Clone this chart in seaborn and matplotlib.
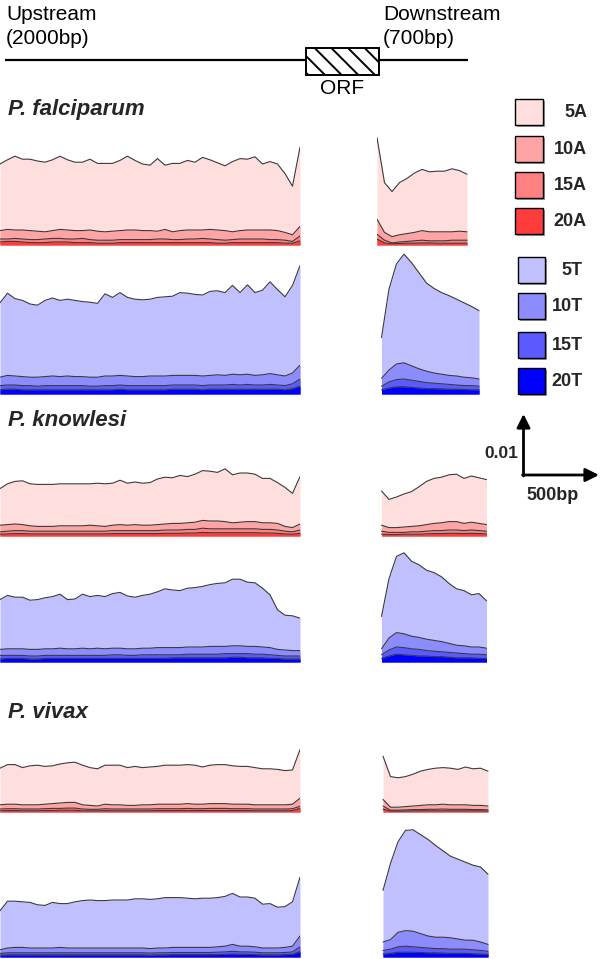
import numpy as np
import matplotlib
matplotlib.use("Agg")
import matplotlib.pyplot as plt
from matplotlib.patches import Rectangle
import seaborn as sns

sns.set_style("white")
plt.rcParams['font.family'] = ['Liberation Sans', 'DejaVu Sans']
plt.rcParams['hatch.linewidth'] = 1.4

# ---------------- data (values in units of 1e-3) ----------------
UP_BP = np.arange(-2000, 1, 50)          # upstream bin positions (bp)

# P. falciparum
PF_UP_5A = [13.5, 14.2, 14.8, 14.3, 14.3, 14.0, 13.8, 14.2, 14.8, 14.2, 13.8, 13.8, 14.3, 13.6, 13.6, 13.6, 14.1, 14.8, 14.1, 13.5, 13.3, 14.4, 13.3, 13.6, 13.6, 14.1, 13.8, 14.6, 14.2, 13.7, 13.2, 13.9, 14.4, 14.3, 14.7, 13.5, 13.9, 13.5, 11.9, 9.8, 16.3]
PF_UP_10A = [2.4, 2.6, 2.5, 2.5, 2.4, 2.3, 2.2, 2.4, 2.6, 2.5, 2.4, 2.4, 2.5, 2.3, 2.2, 2.3, 2.4, 2.5, 2.5, 2.4, 2.4, 2.3, 2.6, 2.2, 2.4, 2.5, 2.5, 2.5, 2.6, 2.5, 2.4, 2.2, 2.4, 2.5, 2.5, 2.5, 2.5, 2.4, 2.1, 1.7, 3.1]
PF_UP_15A = [1.0, 1.0, 1.1, 1.0, 0.9, 0.9, 1.0, 1.1, 1.1, 1.0, 1.0, 1.1, 0.9, 0.8, 0.8, 0.8, 0.9, 0.9, 0.9, 0.9, 0.9, 1.0, 1.0, 0.9, 0.9, 1.0, 1.0, 1.1, 1.0, 0.9, 0.8, 0.9, 1.0, 1.0, 1.0, 1.0, 0.9, 0.9, 0.8, 0.6, 1.5]
PF_UP_20A = [0.5, 0.6, 0.6, 0.5, 0.4, 0.4, 0.4, 0.5, 0.5, 0.5, 0.4, 0.4, 0.4, 0.3, 0.3, 0.3, 0.4, 0.4, 0.4, 0.4, 0.4, 0.4, 0.4, 0.4, 0.4, 0.4, 0.4, 0.4, 0.4, 0.3, 0.3, 0.4, 0.4, 0.4, 0.4, 0.4, 0.4, 0.4, 0.3, 0.3, 0.7]
PF_UP_5T = [15.2, 16.8, 15.9, 15.6, 15.0, 14.8, 15.6, 16.0, 15.6, 15.8, 15.6, 15.4, 15.3, 15.1, 16.7, 16.1, 16.9, 16.1, 15.8, 15.7, 15.8, 16.1, 16.2, 16.3, 16.9, 16.8, 16.6, 16.5, 17.1, 17.2, 16.9, 18.1, 16.9, 18.2, 16.9, 17.3, 18.7, 17.4, 16.2, 18.1, 21.4]
PF_UP_10T = [2.8, 3.1, 3.0, 2.9, 2.8, 2.8, 2.9, 3.0, 2.9, 3.0, 2.9, 2.9, 2.8, 2.8, 3.0, 3.0, 3.1, 3.0, 2.9, 2.9, 3.0, 3.0, 3.0, 3.1, 3.1, 3.1, 3.1, 3.0, 3.1, 3.2, 3.1, 3.3, 3.2, 3.3, 3.1, 3.2, 3.4, 3.2, 3.0, 3.5, 4.8]
PF_UP_15T = [1.4, 1.5, 1.5, 1.4, 1.4, 1.3, 1.4, 1.4, 1.4, 1.4, 1.4, 1.4, 1.3, 1.3, 1.4, 1.4, 1.5, 1.4, 1.4, 1.4, 1.4, 1.4, 1.4, 1.5, 1.5, 1.5, 1.5, 1.4, 1.5, 1.5, 1.5, 1.6, 1.5, 1.6, 1.5, 1.5, 1.6, 1.5, 1.4, 1.7, 2.5]
PF_UP_20T = [0.7, 0.8, 0.8, 0.7, 0.7, 0.7, 0.7, 0.7, 0.7, 0.7, 0.7, 0.7, 0.7, 0.7, 0.7, 0.7, 0.8, 0.7, 0.7, 0.7, 0.7, 0.7, 0.7, 0.8, 0.8, 0.8, 0.8, 0.7, 0.8, 0.8, 0.8, 0.8, 0.8, 0.8, 0.8, 0.8, 0.8, 0.8, 0.7, 0.9, 1.3]

PF_DN_A_BP = np.arange(0, 601, 50)
PF_DN_5A = [17.9, 10.4, 8.9, 10.4, 11.1, 12.0, 12.6, 12.2, 12.3, 12.3, 12.7, 12.4, 11.8]
PF_DN_10A = [4.3, 2.1, 1.4, 1.7, 1.9, 2.1, 2.4, 2.2, 2.2, 2.2, 2.2, 2.3, 2.2]
PF_DN_15A = [1.8, 0.8, 0.35, 0.5, 0.6, 0.7, 0.8, 0.7, 0.7, 0.7, 0.8, 0.8, 0.8]
PF_DN_20A = [1.0, 0.35, 0.2, 0.25, 0.3, 0.3, 0.35, 0.35, 0.3, 0.3, 0.3, 0.3, 0.3]
PF_DN_T_BP = np.arange(30, 681, 50)
PF_DN_5T = [9.4, 17.5, 21.7, 23.3, 21.9, 20.2, 18.5, 17.6, 16.9, 16.4, 15.8, 15.2, 14.6, 13.9]
PF_DN_10T = [2.6, 4.0, 5.0, 5.2, 4.7, 4.2, 3.8, 3.5, 3.3, 3.1, 3.0, 2.8, 2.7, 2.5]
PF_DN_15T = [1.3, 2.0, 2.4, 2.5, 2.3, 2.1, 1.9, 1.8, 1.7, 1.6, 1.5, 1.4, 1.4, 1.3]
PF_DN_20T = [0.7, 1.0, 1.2, 1.2, 1.1, 1.0, 0.9, 0.9, 0.85, 0.8, 0.8, 0.75, 0.7, 0.7]

# P. knowlesi
PK_UP_5A = [7.9, 8.7, 9.1, 9.2, 8.7, 8.6, 8.6, 8.6, 8.7, 8.7, 8.7, 8.7, 8.7, 8.8, 8.7, 8.8, 9.3, 8.8, 9.0, 8.8, 8.9, 9.5, 9.8, 9.7, 10.1, 9.9, 10.3, 10.9, 10.8, 10.6, 11.2, 10.2, 10.5, 10.5, 10.3, 9.6, 9.6, 8.9, 8.1, 7.1, 9.9]
PK_UP_10A = [1.8, 1.9, 2.0, 1.9, 1.7, 1.6, 1.6, 1.6, 1.7, 1.7, 1.7, 1.7, 1.8, 1.7, 1.6, 1.8, 1.9, 1.8, 1.9, 1.8, 1.8, 1.9, 2.0, 2.1, 2.1, 2.2, 2.3, 2.6, 2.5, 2.5, 2.4, 2.2, 2.3, 2.4, 2.4, 2.2, 2.2, 2.1, 1.6, 1.4, 2.0]
PK_UP_15A = [0.7, 0.8, 0.9, 0.9, 0.8, 0.8, 0.8, 0.8, 0.8, 0.8, 0.8, 0.8, 0.8, 0.8, 0.8, 0.9, 0.9, 0.9, 0.9, 0.9, 0.9, 0.9, 1.0, 1.0, 1.0, 1.1, 1.1, 1.3, 1.2, 1.2, 1.2, 1.2, 1.2, 1.2, 1.2, 1.1, 1.1, 1.0, 0.8, 0.7, 1.0]
PK_UP_20A = [0.3, 0.35, 0.4, 0.4, 0.35, 0.35, 0.35, 0.35, 0.35, 0.35, 0.35, 0.35, 0.35, 0.35, 0.35, 0.4, 0.4, 0.4, 0.4, 0.4, 0.4, 0.4, 0.45, 0.45, 0.45, 0.5, 0.5, 0.6, 0.55, 0.55, 0.55, 0.55, 0.55, 0.55, 0.55, 0.5, 0.5, 0.45, 0.35, 0.3, 0.45]
PK_UP_5T = [10.4, 11.1, 10.8, 10.8, 10.3, 10.4, 10.7, 10.9, 11.3, 10.4, 10.5, 11.3, 10.9, 11.1, 10.9, 11.4, 11.6, 11.0, 10.8, 11.1, 11.3, 11.7, 12.2, 12.0, 11.9, 12.3, 12.4, 12.6, 12.9, 13.1, 13.2, 13.8, 13.8, 13.3, 13.2, 12.3, 11.2, 8.7, 7.8, 7.7, 7.3]
PK_UP_10T = [2.1, 2.2, 2.2, 2.2, 2.1, 2.1, 2.2, 2.2, 2.3, 2.2, 2.2, 2.3, 2.2, 2.3, 2.2, 2.3, 2.3, 2.2, 2.2, 2.3, 2.3, 2.4, 2.4, 2.4, 2.4, 2.5, 2.5, 2.5, 2.6, 2.6, 2.6, 2.7, 2.7, 2.6, 2.6, 2.5, 2.4, 2.1, 2.0, 1.9, 1.9]
PK_UP_15T = [1.1, 1.1, 1.1, 1.1, 1.0, 1.0, 1.1, 1.1, 1.1, 1.1, 1.1, 1.1, 1.1, 1.1, 1.1, 1.2, 1.2, 1.1, 1.1, 1.2, 1.2, 1.2, 1.2, 1.2, 1.2, 1.3, 1.3, 1.3, 1.3, 1.3, 1.4, 1.4, 1.4, 1.4, 1.3, 1.3, 1.2, 1.1, 1.0, 1.0, 1.0]
PK_UP_20T = [0.5, 0.6, 0.6, 0.6, 0.5, 0.5, 0.6, 0.6, 0.6, 0.6, 0.6, 0.6, 0.6, 0.6, 0.6, 0.6, 0.6, 0.6, 0.6, 0.6, 0.6, 0.6, 0.6, 0.7, 0.7, 0.7, 0.7, 0.7, 0.7, 0.7, 0.7, 0.8, 0.8, 0.7, 0.7, 0.7, 0.6, 0.6, 0.5, 0.5, 0.5]

PK_DN_BP = np.arange(30, 731, 50)
PK_DN_5A = [7.5, 6.1, 6.5, 7.0, 7.4, 8.2, 9.1, 9.6, 9.8, 10.2, 10.3, 9.6, 10.0, 9.7, 9.4]
PK_DN_10A = [1.8, 1.4, 1.4, 1.5, 1.6, 1.7, 1.9, 2.1, 2.2, 2.4, 2.4, 2.1, 2.3, 2.1, 1.9]
PK_DN_15A = [0.8, 0.6, 0.6, 0.6, 0.7, 0.7, 0.8, 0.9, 0.9, 1.0, 1.0, 0.9, 1.0, 0.9, 0.8]
PK_DN_20A = [0.3, 0.25, 0.25, 0.3, 0.3, 0.3, 0.35, 0.4, 0.4, 0.45, 0.45, 0.4, 0.45, 0.4, 0.35]
PK_DN_5T = [7.6, 13.9, 17.6, 18.2, 16.8, 16.2, 15.3, 14.9, 14.2, 13.1, 12.2, 11.9, 11.2, 11.4, 10.2]
PK_DN_10T = [2.2, 4.0, 4.9, 4.7, 4.3, 4.1, 3.8, 3.6, 3.4, 3.1, 2.8, 2.7, 2.5, 2.5, 2.3]
PK_DN_15T = [1.2, 2.0, 2.5, 2.4, 2.2, 2.1, 1.9, 1.8, 1.7, 1.6, 1.5, 1.4, 1.3, 1.3, 1.2]
PK_DN_20T = [0.6, 1.0, 1.3, 1.2, 1.1, 1.0, 1.0, 0.9, 0.9, 0.8, 0.7, 0.7, 0.7, 0.6, 0.6]

# P. vivax
PV_UP_5A = [7.3, 7.9, 7.9, 7.4, 7.7, 7.8, 7.6, 7.7, 8.0, 8.2, 8.3, 7.8, 7.4, 7.2, 7.8, 7.8, 7.8, 7.4, 7.6, 7.4, 7.5, 7.6, 7.8, 7.8, 7.8, 7.9, 7.8, 7.5, 7.8, 7.9, 7.9, 7.7, 7.6, 7.6, 7.4, 7.2, 7.2, 7.1, 6.9, 7.0, 10.4]
PV_UP_10A = [1.2, 1.3, 1.3, 1.2, 1.2, 1.2, 1.3, 1.4, 1.5, 1.6, 1.6, 1.2, 1.1, 1.0, 1.3, 1.2, 1.2, 1.1, 1.1, 1.2, 1.2, 1.3, 1.3, 1.3, 1.3, 1.4, 1.3, 1.3, 1.4, 1.4, 1.4, 1.3, 1.3, 1.3, 1.2, 1.2, 1.2, 1.2, 1.2, 1.3, 2.3]
PV_UP_15A = [0.5, 0.55, 0.55, 0.5, 0.5, 0.5, 0.55, 0.6, 0.6, 0.65, 0.65, 0.5, 0.45, 0.45, 0.55, 0.5, 0.5, 0.5, 0.5, 0.5, 0.5, 0.55, 0.55, 0.55, 0.55, 0.6, 0.55, 0.55, 0.6, 0.6, 0.6, 0.55, 0.55, 0.55, 0.5, 0.5, 0.5, 0.5, 0.5, 0.55, 0.95]
PV_UP_20A = [0.2, 0.25, 0.25, 0.2, 0.2, 0.2, 0.25, 0.25, 0.3, 0.3, 0.3, 0.2, 0.2, 0.2, 0.25, 0.2, 0.2, 0.2, 0.2, 0.2, 0.2, 0.25, 0.25, 0.25, 0.25, 0.25, 0.25, 0.25, 0.25, 0.25, 0.25, 0.25, 0.25, 0.25, 0.2, 0.2, 0.2, 0.2, 0.2, 0.25, 0.6]
PV_UP_5T = [7.7, 9.3, 9.3, 9.2, 9.1, 8.7, 8.6, 9.1, 8.9, 8.9, 9.2, 9.4, 9.5, 9.4, 9.4, 9.5, 9.5, 9.5, 9.7, 9.7, 9.6, 9.7, 9.9, 9.9, 9.9, 9.8, 9.7, 9.8, 9.8, 9.9, 10.1, 10.6, 10.0, 10.0, 9.8, 8.8, 8.9, 8.3, 8.4, 9.2, 13.3]
PV_UP_10T = [1.2, 1.5, 1.6, 1.6, 1.5, 1.5, 1.5, 1.5, 1.6, 1.5, 1.5, 1.5, 1.5, 1.5, 1.5, 1.5, 1.5, 1.5, 1.5, 1.5, 1.4, 1.5, 1.5, 1.6, 1.6, 1.6, 1.6, 1.6, 1.6, 1.7, 1.8, 2.1, 1.8, 1.8, 1.7, 1.5, 1.5, 1.5, 1.6, 1.8, 3.5]
PV_UP_15T = [0.6, 0.7, 0.7, 0.7, 0.7, 0.7, 0.7, 0.7, 0.7, 0.7, 0.7, 0.7, 0.7, 0.7, 0.7, 0.7, 0.7, 0.7, 0.7, 0.7, 0.65, 0.7, 0.7, 0.75, 0.75, 0.75, 0.75, 0.75, 0.75, 0.8, 0.85, 0.95, 0.85, 0.85, 0.8, 0.7, 0.7, 0.7, 0.75, 0.85, 1.7]
PV_UP_20T = [0.3, 0.35, 0.35, 0.35, 0.35, 0.35, 0.35, 0.35, 0.35, 0.35, 0.35, 0.35, 0.35, 0.35, 0.35, 0.35, 0.35, 0.35, 0.35, 0.35, 0.3, 0.35, 0.35, 0.4, 0.4, 0.4, 0.4, 0.4, 0.4, 0.4, 0.45, 0.5, 0.45, 0.45, 0.4, 0.35, 0.35, 0.35, 0.4, 0.45, 0.9]

PV_DN_BP = np.arange(40, 741, 50)
PV_DN_5A = [9.3, 5.9, 5.7, 5.9, 6.3, 6.8, 7.1, 7.3, 7.4, 7.3, 7.1, 7.5, 7.2, 7.3, 6.8]
PV_DN_10A = [2.1, 0.8, 0.8, 0.9, 1.0, 1.1, 1.2, 1.2, 1.3, 1.2, 1.2, 1.2, 1.1, 1.1, 1.0]
PV_DN_15A = [1.0, 0.3, 0.3, 0.35, 0.4, 0.4, 0.45, 0.45, 0.5, 0.45, 0.45, 0.45, 0.4, 0.4, 0.35]
PV_DN_20A = [0.5, 0.15, 0.15, 0.15, 0.2, 0.2, 0.2, 0.2, 0.2, 0.2, 0.2, 0.2, 0.2, 0.2, 0.15]
PV_DN_5T = [11.1, 15.6, 19.2, 21.1, 21.2, 20.4, 19.6, 18.6, 17.7, 16.8, 16.3, 15.8, 15.3, 15.0, 13.8]
PV_DN_10T = [2.5, 2.9, 4.1, 4.4, 4.3, 3.9, 3.5, 3.3, 3.3, 3.2, 3.0, 2.8, 2.8, 2.5, 2.1]
PV_DN_15T = [1.1, 1.3, 1.7, 1.8, 1.7, 1.6, 1.5, 1.4, 1.4, 1.3, 1.3, 1.3, 1.2, 1.1, 0.95]
PV_DN_20T = [0.5, 0.6, 0.8, 0.8, 0.8, 0.75, 0.7, 0.7, 0.65, 0.6, 0.6, 0.6, 0.55, 0.5, 0.45]

LEVELS_A = ["5A", "10A", "15A", "20A"]
LEVELS_T = ["5T", "10T", "15T", "20T"]
SPECIES = ["P. falciparum", "P. knowlesi", "P. vivax"]

A_COLORS = ["#FFDEDE", "#FFA4A4", "#FF8080", "#FF3C3C"]
T_COLORS = ["#C0C0FF", "#8C8CFF", "#5A5AFF", "#0000FF"]
EDGE = "#3a3a3a"

# ---------------- layout ----------------
W, H = 600, 959
PX_PER_UNIT = 6.0       # 0.01 -> 60 px
PX_PER_BP = 0.15        # 500 bp -> 75 px
fig = plt.figure(figsize=(W / 100, H / 100), dpi=100)

ov = fig.add_axes([0, 0, 1, 1])
ov.set_xlim(0, W)
ov.set_ylim(H, 0)
ov.axis("off")


def px_axes(x0, width_bp, x_start_bp, base, height):
    ax = fig.add_axes([x0 / W, 1 - base / H, width_bp * PX_PER_BP / W, height / H])
    ax.axis("off")
    return ax, (x_start_bp, x_start_bp + width_bp), (0, height / PX_PER_UNIT)


def draw_levels(ax, x, series, colors, xlim, ylim):
    for vals, c in zip(series, colors):
        ax.fill_between(x, 0, vals, color=c, lw=0)
        sns.lineplot(x=x, y=vals, ax=ax, color=EDGE, lw=0.8, legend=False)
    ax.set_xlim(*xlim)
    ax.set_ylim(*ylim)
    ax.axis("off")


panels = [
    (245, A_COLORS, UP_BP, [PF_UP_5A, PF_UP_10A, PF_UP_15A, PF_UP_20A],
     PF_DN_A_BP, [PF_DN_5A, PF_DN_10A, PF_DN_15A, PF_DN_20A]),
    (394, T_COLORS, UP_BP, [PF_UP_5T, PF_UP_10T, PF_UP_15T, PF_UP_20T],
     PF_DN_T_BP, [PF_DN_5T, PF_DN_10T, PF_DN_15T, PF_DN_20T]),
    (536, A_COLORS, UP_BP, [PK_UP_5A, PK_UP_10A, PK_UP_15A, PK_UP_20A],
     PK_DN_BP, [PK_DN_5A, PK_DN_10A, PK_DN_15A, PK_DN_20A]),
    (662, T_COLORS, UP_BP, [PK_UP_5T, PK_UP_10T, PK_UP_15T, PK_UP_20T],
     PK_DN_BP, [PK_DN_5T, PK_DN_10T, PK_DN_15T, PK_DN_20T]),
    (812, A_COLORS, UP_BP, [PV_UP_5A, PV_UP_10A, PV_UP_15A, PV_UP_20A],
     PV_DN_BP, [PV_DN_5A, PV_DN_10A, PV_DN_15A, PV_DN_20A]),
    (957, T_COLORS, UP_BP, [PV_UP_5T, PV_UP_10T, PV_UP_15T, PV_UP_20T],
     PV_DN_BP, [PV_DN_5T, PV_DN_10T, PV_DN_15T, PV_DN_20T]),
]

for base, cols, ux, useries, dx, dseries in panels:
    ax, xl, yl = px_axes(0, 2000, -2000, base, 150)
    draw_levels(ax, ux, useries, cols, xl, yl)
    ax, xl, yl = px_axes(377, 780, 0, base, 150)
    draw_levels(ax, dx, dseries, cols, xl, yl)

# ---------------- schematic at top ----------------
ov.plot([5, 468], [59.5, 59.5], color="black", lw=1.6, solid_capstyle="butt")
ov.add_patch(Rectangle((306, 48), 73, 27, facecolor="white", edgecolor="black",
                       lw=1.4, hatch="\\\\", zorder=3))
txt = dict(fontsize=15, color="black", va="center")
ov.text(6, 15, "Upstream", ha="left", **txt)
ov.text(6, 38, "(2000bp)", ha="left", **txt)
ov.text(383, 15, "Downstream", ha="left", **txt)
ov.text(383, 38, "(700bp)", ha="left", **txt)
ov.text(342, 88, "ORF", ha="center", **txt)

# species titles
for name, y in zip(SPECIES, [109, 421, 712]):
    ov.text(8, y, name, fontsize=16, fontweight="bold", fontstyle="italic",
            ha="left", va="center")

# ---------------- legend ----------------
A_TOPS = [99, 135.5, 172, 208]
T_TOPS = [257, 293, 332, 368]
for lab, c, top in zip(LEVELS_A, A_COLORS, A_TOPS):
    ov.add_patch(Rectangle((517, top + 2), 28, 26, facecolor="#9a9a9a", edgecolor="none"))
    ov.add_patch(Rectangle((515, top), 28, 26, facecolor=c, edgecolor="black", lw=1.0))
    ov.text(587, top + 13.5, lab, fontsize=13, fontweight="bold", ha="right", va="center")
for lab, c, top in zip(LEVELS_T, T_COLORS, T_TOPS):
    ov.add_patch(Rectangle((520, top + 2), 27, 26, facecolor="#9a9a9a", edgecolor="none"))
    ov.add_patch(Rectangle((518, top), 27, 26, facecolor=c, edgecolor="black", lw=1.0))
    ov.text(583, top + 13.5, lab, fontsize=13, fontweight="bold", ha="right", va="center")

# ---------------- scale bar ----------------
arrow = dict(arrowstyle="-|>", lw=2.0, color="black", mutation_scale=20,
             shrinkA=0, shrinkB=0)
ov.annotate("", xy=(523.5, 414), xytext=(523.5, 476), arrowprops=arrow)
ov.annotate("", xy=(599, 475), xytext=(522.5, 475), arrowprops=arrow)
ov.text(518, 453, "0.01", fontsize=12.5, fontweight="bold", ha="right", va="center")
ov.text(553, 496, "500bp", fontsize=13, fontweight="bold", ha="center", va="center")

fig.savefig("out.png", dpi=100)
